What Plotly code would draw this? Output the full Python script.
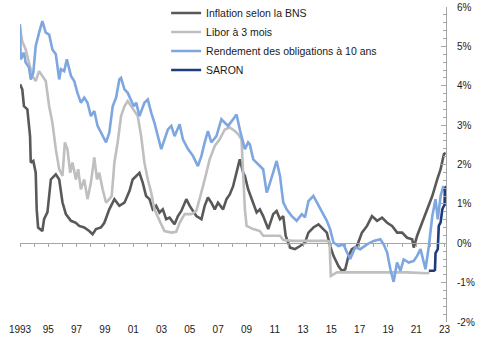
import plotly.graph_objects as go

# ---- data (decimal years, percent) ----
infl_x = [1993.0, 1993.16, 1993.28, 1993.52, 1993.71, 1993.76, 1993.94, 1994.11, 1994.18, 1994.28, 1994.58, 1994.70, 1994.94,
          1995.18, 1995.53, 1995.77, 1996.00, 1996.24, 1996.60, 1996.95, 1997.18, 1997.54, 1997.89, 1998.13, 1998.37, 1998.72,
          1998.96, 1999.31, 1999.67, 2000.02, 2000.38, 2000.74, 2000.96, 2001.21, 2001.44, 2001.67, 2001.91, 2002.15, 2002.38,
          2002.62, 2002.86, 2003.09, 2003.33, 2003.57, 2003.92, 2004.16, 2004.40, 2004.75, 2004.99, 2005.46, 2005.82, 2006.05,
          2006.28, 2006.52, 2006.76, 2006.99, 2007.35, 2007.59, 2007.82, 2008.06, 2008.30, 2008.53, 2008.77, 2008.89, 2009.12,
          2009.48, 2009.72, 2009.95, 2010.18, 2010.54, 2010.89, 2011.13, 2011.37, 2011.60, 2011.77, 2012.08, 2012.43, 2012.79,
          2013.14, 2013.38, 2013.73, 2014.09, 2014.44, 2014.68, 2014.91, 2015.15, 2015.50, 2015.74, 2015.98, 2016.21, 2016.45,
          2016.81, 2017.16, 2017.52, 2017.87, 2018.23, 2018.58, 2018.94, 2019.29, 2019.65, 2020.00, 2020.35, 2020.71, 2020.82,
          2021.06, 2021.42, 2021.77, 2022.13, 2022.48, 2022.72, 2022.95, 2023.07]
infl_y = [4.04, 3.91, 3.48, 3.40, 2.72, 2.05, 2.09, 1.79, 0.86, 0.40, 0.31, 0.61, 0.79,
          1.62, 1.75, 1.62, 1.04, 0.74, 0.57, 0.52, 0.44, 0.40, 0.31, 0.23, 0.36, 0.40,
          0.52, 0.86, 1.12, 0.95, 1.03, 1.33, 1.62, 1.71, 1.79, 1.54, 1.20, 1.12, 0.86,
          0.95, 0.78, 0.86, 0.61, 0.65, 0.48, 0.69, 0.82, 1.12, 0.95, 0.69, 0.61, 0.95,
          1.16, 1.03, 0.86, 1.03, 0.86, 1.12, 1.24, 1.45, 1.79, 2.13, 1.79, 1.71, 1.37,
          1.03, 0.78, 0.86, 0.69, 0.36, 0.74, 0.82, 0.61, 0.69, 0.19, -0.11, -0.15, -0.07,
          0.02, 0.27, 0.40, 0.48, 0.36, 0.27, -0.07, -0.32, -0.58, -0.70, -0.66, -0.32, -0.15,
          -0.07, 0.27, 0.44, 0.69, 0.57, 0.65, 0.52, 0.44, 0.27, 0.27, 0.14, 0.10, -0.11,
          0.19, 0.52, 0.86, 1.20, 1.62, 1.88, 2.26, 2.30]

libor_x = [1993.0, 1993.16, 1993.40, 1993.64, 1993.87, 1994.11, 1994.35, 1994.58, 1994.82, 1995.06, 1995.29, 1995.53, 1995.77,
           1996.00, 1996.17, 1996.35, 1996.55, 1996.71, 1996.95, 1997.11, 1997.30, 1997.54, 1997.77, 1998.01, 1998.25, 1998.44,
           1998.60, 1998.84, 1999.08, 1999.31, 1999.48, 1999.67, 1999.90, 2000.14, 2000.38, 2000.61, 2000.85, 2001.09, 2001.32,
           2001.56, 2001.79, 2002.03, 2002.27, 2002.50, 2002.74, 2002.98, 2003.21, 2003.69, 2004.04, 2004.28, 2004.63, 2005.11,
           2005.46, 2005.70, 2005.93, 2006.17, 2006.40, 2006.76, 2007.11, 2007.47, 2007.82, 2008.18, 2008.41, 2008.65, 2008.77,
           2008.89, 2009.01, 2009.24, 2009.48, 2009.95, 2010.18, 2010.66, 2011.37, 2011.60, 2012.31, 2013.26, 2014.68, 2014.87,
           2014.96, 2015.39, 2016.10, 2017.99, 2020.35, 2021.77, 2021.94]
libor_y = [5.47, 5.13, 4.92, 4.59, 4.25, 4.12, 4.37, 4.25, 4.12, 3.48, 3.06, 2.39, 1.88,
           1.71, 2.56, 2.39, 1.79, 2.05, 1.62, 1.88, 1.37, 1.62, 1.12, 1.54, 2.18, 1.62,
           1.79, 1.37, 1.03, 1.12, 1.20, 2.05, 2.56, 3.23, 3.48, 3.61, 3.48, 3.32, 3.23,
           2.72, 2.05, 1.62, 1.29, 0.86, 0.69, 0.48, 0.31, 0.27, 0.29, 0.52, 0.74, 0.74,
           0.82, 1.12, 1.45, 1.79, 2.13, 2.47, 2.64, 2.89, 2.94, 2.85, 2.77, 2.64, 1.50,
           0.86, 0.44, 0.40, 0.36, 0.31, 0.19, 0.19, 0.19, 0.08, 0.06, 0.06, 0.06, 0.04,
           -0.83, -0.74, -0.74, -0.73, -0.74, -0.76, -0.75]

bond_x = [1993.0, 1993.05, 1993.28, 1993.40, 1993.64, 1993.76, 1993.94, 1994.11, 1994.35, 1994.58, 1994.82, 1995.06, 1995.29,
          1995.53, 1995.77, 1995.89, 1996.12, 1996.31, 1996.60, 1996.83, 1997.06, 1997.30, 1997.54, 1997.77, 1998.01, 1998.25,
          1998.48, 1998.72, 1999.08, 1999.31, 1999.55, 1999.79, 2000.02, 2000.14, 2000.38, 2000.61, 2000.85, 2001.04, 2001.21,
          2001.44, 2001.79, 2002.03, 2002.27, 2002.50, 2002.74, 2002.98, 2003.21, 2003.45, 2003.69, 2003.92, 2004.28, 2004.51,
          2004.87, 2005.22, 2005.57, 2005.82, 2006.05, 2006.28, 2006.52, 2006.88, 2007.23, 2007.47, 2007.70, 2008.06, 2008.30,
          2008.53, 2008.89, 2009.12, 2009.24, 2009.48, 2009.83, 2010.18, 2010.43, 2010.52, 2010.89, 2011.13, 2011.37, 2011.60,
          2011.84, 2012.20, 2012.55, 2012.91, 2013.14, 2013.38, 2013.73, 2013.97, 2014.33, 2014.68, 2014.91, 2015.15, 2015.50,
          2015.86, 2016.10, 2016.33, 2016.69, 2017.04, 2017.52, 2017.99, 2018.46, 2018.70, 2018.94, 2019.17, 2019.40, 2019.64,
          2019.88, 2020.11, 2020.47, 2020.82, 2021.06, 2021.30, 2021.65, 2021.89, 2022.13, 2022.36, 2022.52, 2022.72, 2022.91,
          2023.07]
bond_y = [5.56, 4.67, 4.84, 4.59, 4.46, 4.16, 4.33, 5.01, 5.35, 5.64, 5.35, 5.30, 4.92,
          4.80, 4.16, 4.42, 4.37, 4.67, 4.25, 4.12, 3.82, 3.57, 3.70, 3.57, 3.23, 3.36,
          2.98, 2.81, 2.56, 2.81, 3.48, 3.70, 4.16, 4.20, 3.91, 3.82, 3.65, 3.48, 3.57,
          3.23, 3.57, 3.65, 3.32, 3.06, 2.72, 2.39, 2.64, 2.89, 2.98, 2.72, 3.02, 2.64,
          2.39, 2.22, 1.96, 2.22, 2.56, 2.85, 2.56, 2.72, 3.15, 3.06, 2.98, 3.15, 3.27,
          2.89, 2.39, 2.56, 2.51, 2.13, 2.00, 1.88, 1.29, 1.37, 1.80, 2.09, 1.71, 1.04,
          0.86, 0.69, 0.57, 0.74, 0.66, 1.07, 1.20, 1.04, 0.79, 0.57, 0.36, 0.02, -0.07,
          -0.03, -0.23, -0.40, -0.10, -0.15, -0.03, 0.06, 0.10, -0.03, -0.23, -0.66, -0.98, -0.49,
          -0.70, -0.41, -0.49, -0.45, -0.32, -0.15, -0.66, -0.07, 0.69, 1.12, 0.61, 1.20, 1.45,
          1.29]

saron_x = [2021.89, 2022.24, 2022.32, 2022.36, 2022.52, 2022.55, 2022.59, 2022.72, 2022.84, 2022.95, 2023.00, 2023.02, 2023.12]
saron_y = [-0.70, -0.70, -0.68, -0.25, -0.15, 0.20, 0.44, 0.53, 0.86, 0.95, 0.97, 1.37, 1.45]

names = ["Inflation selon la BNS", "Libor à 3 mois", "Rendement des obligations à 10 ans", "SARON"]
colors = ["#595959", "#bfbfbf", "#7ea6e0", "#1f3d7a"]

year_ticks = [1993, 1995, 1997, 1999, 2001, 2003, 2005, 2007, 2009, 2011, 2013, 2015, 2017, 2019, 2021, 2023]
year_text = ["1993", "95", "97", "99", "01", "03", "05", "07", "09", "11", "13", "15", "17", "19", "21", "23"]
pct_ticks = [-2, -1, 0, 1, 2, 3, 4, 5, 6]
pct_text = ["-2%", "-1%", "0%", "1%", "2%", "3%", "4%", "5%", "6%"]

XR = [1993, 2023.1]
FONT = "Liberation Sans"

fig = go.Figure()
for xs, ys, nm, c in [(infl_x, infl_y, names[0], colors[0]),
                      (libor_x, libor_y, names[1], colors[1]),
                      (bond_x, bond_y, names[2], colors[2]),
                      (saron_x, saron_y, names[3], colors[3])]:
    fig.add_trace(go.Scatter(x=xs, y=ys, name=nm, mode="lines",
                             line=dict(color=c, width=2.6)))
# empty trace to carry the bottom label axis
fig.add_trace(go.Scatter(x=[], y=[], xaxis="x2", showlegend=False, hoverinfo="skip"))

fig.update_layout(
    width=491, height=341,
    margin=dict(l=20, r=45, t=7, b=19, autoexpand=False),
    paper_bgcolor="white", plot_bgcolor="white",
    font=dict(family=FONT, size=10, color="#1a1a1a"),
    showlegend=True,
    legend=dict(x=0.343, y=1.027, xanchor="left", yanchor="top",
                bgcolor="rgba(0,0,0,0)", font=dict(size=10.5, family=FONT, color="#1a1a1a"),
                tracegroupgap=0, itemwidth=30),
    xaxis=dict(range=XR, anchor="free", position=0.25, showline=True, linecolor="#a6a6a6", linewidth=1,
               ticks="outside", tick0=1993, dtick=1, ticklen=3, tickcolor="#a6a6a6",
               showticklabels=False, showgrid=False, zeroline=False),
    xaxis2=dict(range=XR, overlaying="x", anchor="y", side="bottom", showline=False, ticks="",
                tickmode="array", tickvals=year_ticks, ticktext=year_text, showgrid=False, zeroline=False,
                tickfont=dict(size=10, family=FONT, color="#1a1a1a")),
    yaxis=dict(range=[-2, 6], side="right", showline=True, linecolor="#a6a6a6", linewidth=1,
               tickmode="array", tickvals=pct_ticks, ticktext=pct_text,
               ticks="inside", ticklen=5, tickcolor="#a6a6a6", ticklabelstandoff=8,
               minor=dict(dtick=0.2, tick0=0, ticks="inside", ticklen=3, tickcolor="#a6a6a6", showgrid=False),
               showgrid=False, zeroline=False, tickfont=dict(size=10, family=FONT, color="#1a1a1a")),
)

fig.write_html("out.html")
